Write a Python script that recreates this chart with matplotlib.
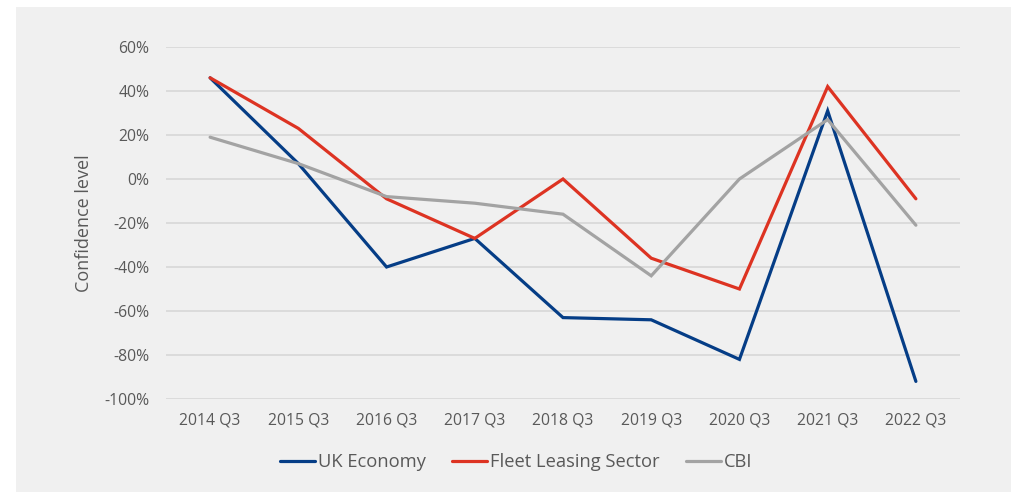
import matplotlib.pyplot as plt
from matplotlib.patches import Rectangle
from matplotlib.ticker import FuncFormatter

# ------------------- DATA ------------------- #
quarters = ["2014 Q3", "2015 Q3", "2016 Q3", "2017 Q3", "2018 Q3",
            "2019 Q3", "2020 Q3", "2021 Q3", "2022 Q3"]
uk_economy = [46, 7, -40, -27, -63, -64, -82, 31, -92]
fleet_leasing = [46, 23, -9, -27, 0, -36, -50, 42, -9]
cbi = [19, 7, -8, -11, -16, -44, 0, 27, -21]

# ------------------- STYLE ------------------- #
plt.rcParams['font.family'] = ['Open Sans', 'DejaVu Sans']
text_color = '#595959'
bg_color = '#f0f0f0'

fig = plt.figure(figsize=(10.11, 4.92), dpi=100, facecolor='white')
fig.patches.append(Rectangle((16 / 1011, 0), 1 - 16 / 1011, 485 / 492,
                             transform=fig.transFigure, facecolor=bg_color,
                             edgecolor='none', zorder=-10))

ax = fig.add_axes([166 / 1011, 93 / 492, 794 / 1011, 352 / 492])
ax.set_facecolor('none')

x = range(len(quarters))
ax.plot(x, uk_economy, color='#053d86', lw=2.3, label='UK Economy',
        solid_capstyle='round', solid_joinstyle='miter', zorder=3)
ax.plot(x, fleet_leasing, color='#dd3322', lw=2.3, label='Fleet Leasing Sector',
        solid_capstyle='round', solid_joinstyle='miter', zorder=3)
ax.plot(x, cbi, color='#a3a3a3', lw=2.3, label='CBI',
        solid_capstyle='round', solid_joinstyle='miter', zorder=3)

ax.set_xlim(-0.5, len(quarters) - 0.5)
ax.set_ylim(-100, 60)
ax.set_yticks(range(-100, 61, 20))
ax.yaxis.set_major_formatter(FuncFormatter(lambda v, p: f"{v:.0f}%"))
ax.set_xticks(list(x))
ax.set_xticklabels(quarters)

ax.grid(axis='y', color='#d5d5d5', lw=1.1)
ax.set_axisbelow(True)
for s in ax.spines.values():
    s.set_visible(False)
ax.tick_params(axis='both', length=0, labelsize=11.3, colors=text_color)
ax.tick_params(axis='y', pad=12)
ax.tick_params(axis='x', pad=10)

ax.set_ylabel("Confidence level", fontsize=13, color=text_color, labelpad=8)

# legend is centred on the whole chart area, not on the plot
fig.legend(*ax.get_legend_handles_labels(), loc='center',
           bbox_to_anchor=(516 / 1011, 30 / 492),
           ncol=3, frameon=False, fontsize=13.2, handlelength=1.9,
           handletextpad=0.15, columnspacing=1.45, labelcolor=text_color)

fig.savefig("out.png", dpi=100, facecolor='white')
